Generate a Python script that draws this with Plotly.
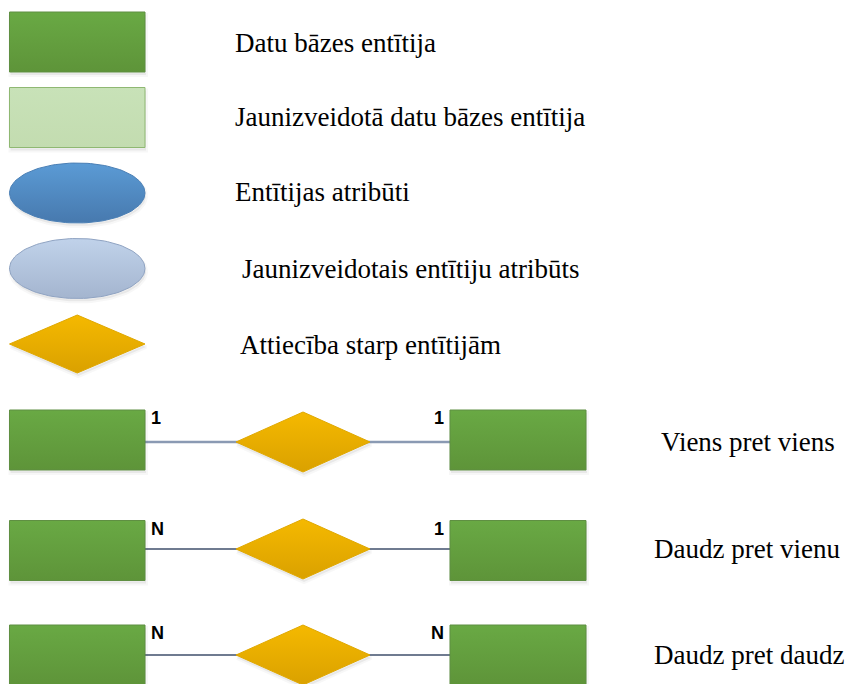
import numpy as np
import plotly.graph_objects as go

# ---- content ----
legend_labels = [
    "Datu bāzes entītija",
    "Jaunizveidotā datu bāzes entītija",
    "Entītijas atribūti",
    "Jaunizveidotais entītiju atribūts",
    "Attiecība starp entītijām",
]
legend_kinds = ["entity", "new_entity", "attribute", "new_attribute", "relation"]
relation_labels = ["Viens pret viens", "Daudz pret vienu", "Daudz pret daudz"]
left_card = ["1", "N", "N"]
right_card = ["1", "1", "N"]

# ---- layout constants ----
W, H = 845, 684
legend_cy = [42, 117.5, 193, 268.5, 344]
legend_text_x = [233, 233, 233, 240, 238]
legend_text_y = [43, 117, 192, 269, 345]
icon_x0, icon_x1 = 9.5, 145
icon_h = 60
row_cy = [440, 550.5, 655]
row_line_y = [442, 549, 655]
row_text_x = [659, 652, 652]
left_rect = (9.5, 145)
right_rect = (450, 586)
dia_x = (236, 370)
dia_hh = 30
line_styles = [("#8a9ab3", 2.5), ("#3f4f6b", 1.5), ("#3f4f6b", 1.5)]

STYLE = {
    "entity": dict(top="#69a944", bot="#5e9439", line="#5f8f42"),
    "new_entity": dict(top="#c8e2b8", bot="#c3dcb0", line="#8fb872"),
    "attribute": dict(top="#5b9bd5", bot="#4779ae", line="#4a7fb5"),
    "new_attribute": dict(top="#c0d2ea", bot="#a4b5cf", line="#8fa3c2"),
    "relation": dict(top="#f5b900", bot="#daa100", line="#e0a800"),
}

fig = go.Figure()


def poly(xs, ys, kind):
    st = STYLE[kind]
    fig.add_trace(go.Scatter(
        x=xs, y=ys, mode="lines", fill="toself",
        fillgradient=dict(type="vertical", colorscale=[[0, st["bot"]], [1, st["top"]]]),
        line=dict(color=st["line"], width=1),
        hoverinfo="skip", showlegend=False,
    ))


def shadow(xs, ys):
    fig.add_trace(go.Scatter(
        x=xs, y=ys, mode="lines", fill="toself", fillcolor="rgba(0,0,0,0.06)",
        line=dict(color="rgba(0,0,0,0.03)", width=4),
        hoverinfo="skip", showlegend=False,
    ))


def rect(x0, x1, cy, kind):
    y0, y1 = cy - icon_h / 2, cy + icon_h / 2
    shadow([x0 + 1, x1 + 1, x1 + 1, x0 + 1, x0 + 1], [y0 + 3, y0 + 3, y1 + 3, y1 + 3, y0 + 3])
    poly([x0, x1, x1, x0, x0], [y0, y0, y1, y1, y0], kind)


def ellipse(x0, x1, cy, kind):
    t = np.linspace(0, 2 * np.pi, 120)
    cx, rx, ry = (x0 + x1) / 2, (x1 - x0) / 2, icon_h / 2
    shadow(cx + 1 + rx * np.cos(t), cy + 3 - ry * np.sin(t))
    poly(cx + rx * np.cos(t), cy - ry * np.sin(t), kind)


def diamond(x0, x1, cy, hh, kind):
    cx = (x0 + x1) / 2
    shadow([x0 + 1, cx + 1, x1 + 1, cx + 1, x0 + 1], [cy + 3, cy + 3 - hh, cy + 3, cy + 3 + hh, cy + 3])
    poly([x0, cx, x1, cx, x0], [cy, cy - hh, cy, cy + hh, cy], kind)


# legend icons
for kind, cy in zip(legend_kinds, legend_cy):
    if kind in ("entity", "new_entity"):
        rect(icon_x0, icon_x1, cy, kind)
    elif kind in ("attribute", "new_attribute"):
        ellipse(icon_x0, icon_x1, cy, kind)
    else:
        diamond(icon_x0, icon_x1, cy, 29, kind)

# relationship rows
for i, (cy, ly) in enumerate(zip(row_cy, row_line_y)):
    col, wd = line_styles[i]
    fig.add_trace(go.Scatter(x=[left_rect[1], right_rect[0]], y=[ly, ly], mode="lines",
                             line=dict(color=col, width=wd), hoverinfo="skip", showlegend=False))
    rect(left_rect[0], left_rect[1], cy, "entity")
    rect(right_rect[0], right_rect[1], cy, "entity")
    diamond(dia_x[0], dia_x[1], ly, dia_hh, "relation")

annotations = []
serif = dict(family="Liberation Serif", size=27, color="#000000")
for lab, x, y in zip(legend_labels, legend_text_x, legend_text_y):
    annotations.append(dict(x=x, y=y, text=lab, showarrow=False, xanchor="left",
                            yanchor="middle", font=serif))
for lab, x, y in zip(relation_labels, row_text_x, row_line_y):
    annotations.append(dict(x=x, y=y, text=lab, showarrow=False, xanchor="left",
                            yanchor="middle", font=serif))
card_font = dict(family="Liberation Sans", size=18, color="#000000")
for i, cy in enumerate(row_cy):
    top = cy - icon_h / 2
    annotations.append(dict(x=left_rect[1] + 4, y=top - 4, text="<b>%s</b>" % left_card[i],
                            showarrow=False, xanchor="left", yanchor="top", font=card_font))
    annotations.append(dict(x=right_rect[0] - 4, y=top - 4, text="<b>%s</b>" % right_card[i],
                            showarrow=False, xanchor="right", yanchor="top", font=card_font))

fig.update_layout(
    width=W, height=H,
    margin=dict(l=0, r=0, t=0, b=0),
    paper_bgcolor="white", plot_bgcolor="white",
    xaxis=dict(range=[0, W], visible=False, fixedrange=True),
    yaxis=dict(range=[H, 0], visible=False, fixedrange=True),
    annotations=annotations,
    showlegend=False,
)
fig.write_html("out.html", config={"displayModeBar": False},
               post_script="document.body.style.margin='0';document.body.style.overflow='hidden';")
